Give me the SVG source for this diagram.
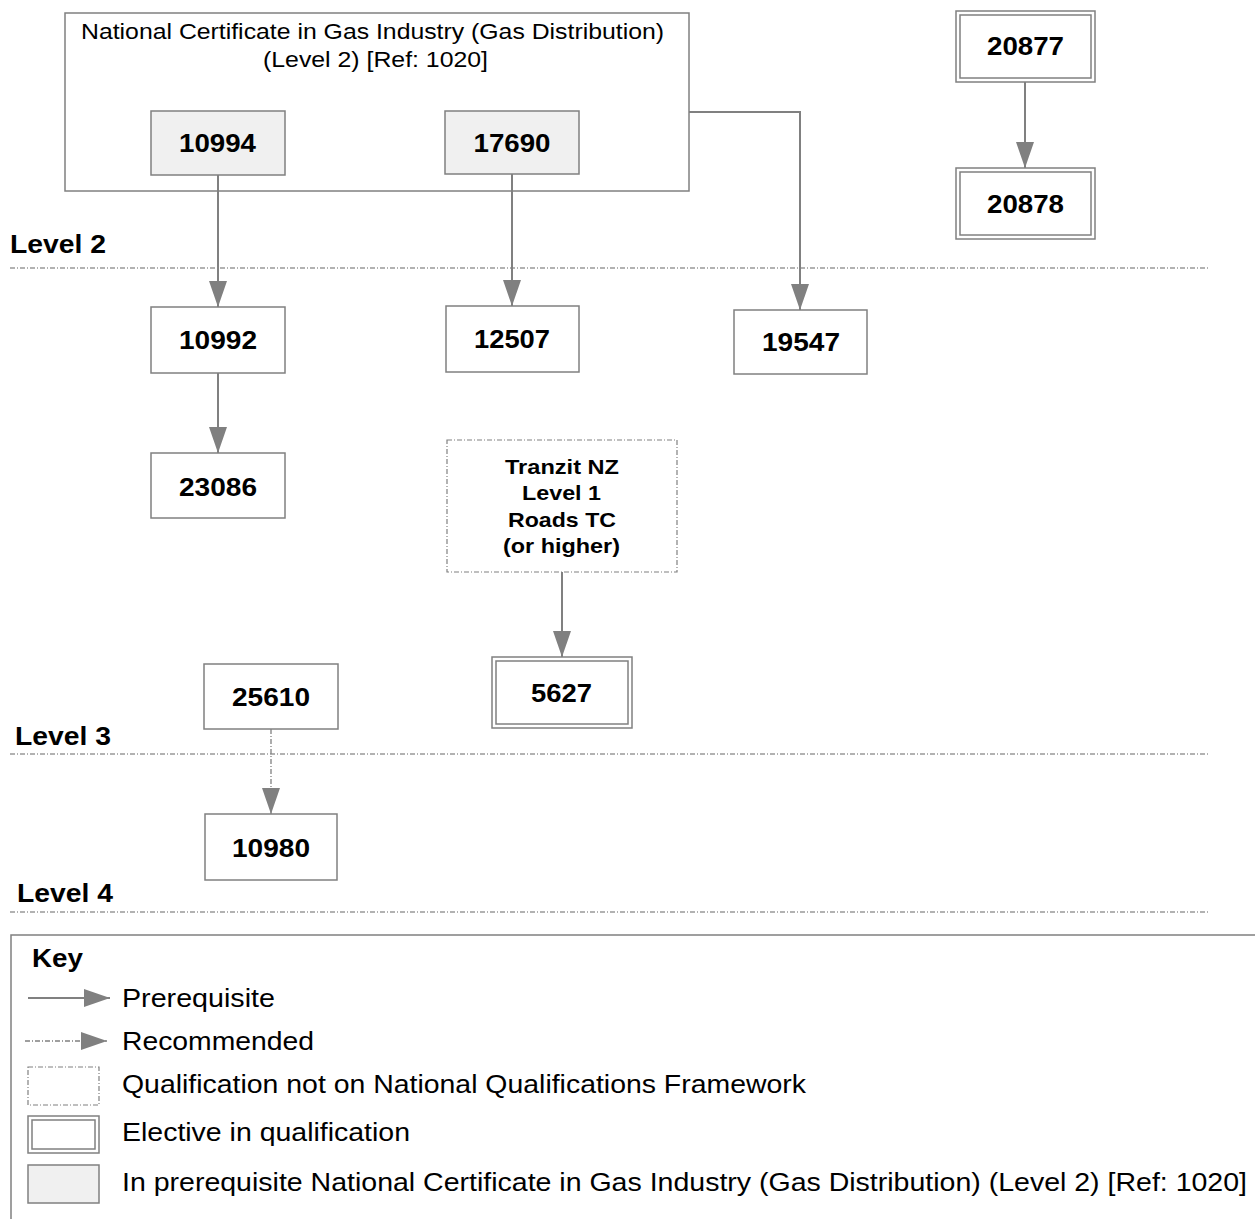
<svg xmlns="http://www.w3.org/2000/svg" width="1255" height="1219" viewBox="0 0 1255 1219">
<style>
.box{fill:#fff;stroke:#808080;stroke-width:1.5}
.grey{fill:#f0f0f0;stroke:#808080;stroke-width:1.5}
.dash{fill:#fff;stroke:#808080;stroke-width:1.2;stroke-dasharray:5 2 1 2}
.num{font-family:"Liberation Sans",Arial,sans-serif;font-weight:bold;font-size:25px;fill:#000;text-anchor:middle}
.lvl{font-family:"Liberation Sans",Arial,sans-serif;font-weight:bold;font-size:25px;fill:#000}
.reg{font-family:"Liberation Sans",Arial,sans-serif;font-size:22px;fill:#000;text-anchor:middle}
.key{font-family:"Liberation Sans",Arial,sans-serif;font-size:25px;fill:#000}
.conn{fill:none;stroke:#808080;stroke-width:2}
.rec{fill:none;stroke:#808080;stroke-width:1.3;stroke-dasharray:5 2 1 2}
.lvline{stroke:#999;stroke-width:1.3;stroke-dasharray:5 2 1 2}
</style>
<defs>
<marker id="arr" markerUnits="userSpaceOnUse" markerWidth="26" markerHeight="18" refX="26" refY="9" viewBox="0 0 26 18" orient="auto">
<path d="M0,0 L26,9 L0,18 Z" fill="#808080"/>
</marker>
</defs>
<rect width="1255" height="1219" fill="#fff"/>

<g id="levels">
<text class="lvl" x="10" y="253" textLength="96" lengthAdjust="spacingAndGlyphs">Level 2</text>
<line class="lvline" x1="10" y1="268" x2="1210" y2="268"/>
<text class="lvl" x="15" y="745" textLength="96" lengthAdjust="spacingAndGlyphs">Level 3</text>
<line class="lvline" x1="10" y1="754" x2="1210" y2="754"/>
<text class="lvl" x="17" y="902" textLength="96" lengthAdjust="spacingAndGlyphs">Level 4</text>
<line class="lvline" x1="10" y1="912" x2="1210" y2="912"/>
</g>

<g id="cert1020">
<rect class="box" x="65" y="13" width="624" height="178"/>
<text class="reg" x="372.5" y="39" textLength="583" lengthAdjust="spacingAndGlyphs">National Certificate in Gas Industry (Gas Distribution)</text>
<text class="reg" x="375.5" y="67" textLength="225" lengthAdjust="spacingAndGlyphs">(Level 2) [Ref: 1020]</text>
</g>
<g id="n10994"><rect class="grey" x="151" y="111" width="134" height="64"/><text class="num" x="217.5" y="152" textLength="77" lengthAdjust="spacingAndGlyphs">10994</text></g>
<g id="n17690"><rect class="grey" x="445" y="111" width="134" height="63"/><text class="num" x="512" y="152" textLength="77" lengthAdjust="spacingAndGlyphs">17690</text></g>
<g id="n20877"><rect class="box" x="956" y="11" width="139" height="71"/><rect class="box" x="960" y="15" width="131" height="63"/><text class="num" x="1025.5" y="55" textLength="77" lengthAdjust="spacingAndGlyphs">20877</text></g>
<g id="n20878"><rect class="box" x="956" y="168" width="139" height="71"/><rect class="box" x="960" y="172" width="131" height="63"/><text class="num" x="1025.5" y="213" textLength="77" lengthAdjust="spacingAndGlyphs">20878</text></g>
<g id="n10992"><rect class="box" x="151" y="307" width="134" height="66"/><text class="num" x="218" y="349" textLength="78" lengthAdjust="spacingAndGlyphs">10992</text></g>
<g id="n12507"><rect class="box" x="446" y="306" width="133" height="66"/><text class="num" x="512" y="348" textLength="76" lengthAdjust="spacingAndGlyphs">12507</text></g>
<g id="n19547"><rect class="box" x="734" y="310" width="133" height="64"/><text class="num" x="801" y="351" textLength="78" lengthAdjust="spacingAndGlyphs">19547</text></g>
<g id="n23086"><rect class="box" x="151" y="453" width="134" height="65"/><text class="num" x="218" y="496" textLength="78" lengthAdjust="spacingAndGlyphs">23086</text></g>
<g id="tranzit"><rect class="dash" x="447" y="440" width="230" height="132"/>
<text class="num" x="562" y="474" style="font-size:21px" textLength="114" lengthAdjust="spacingAndGlyphs">Tranzit NZ</text>
<text class="num" x="561.5" y="500" style="font-size:21px" textLength="79" lengthAdjust="spacingAndGlyphs">Level 1</text>
<text class="num" x="562" y="527" style="font-size:21px" textLength="108" lengthAdjust="spacingAndGlyphs">Roads TC</text>
<text class="num" x="561.5" y="553" style="font-size:21px" textLength="117" lengthAdjust="spacingAndGlyphs">(or higher)</text></g>
<g id="n5627"><rect class="box" x="492" y="657" width="140" height="71"/><rect class="box" x="496" y="661" width="132" height="63"/><text class="num" x="561.5" y="702" textLength="61" lengthAdjust="spacingAndGlyphs">5627</text></g>
<g id="n25610"><rect class="box" x="204" y="664" width="134" height="65"/><text class="num" x="271" y="706" textLength="78" lengthAdjust="spacingAndGlyphs">25610</text></g>
<g id="n10980"><rect class="box" x="205" y="814" width="132" height="66"/><text class="num" x="271" y="857" textLength="78" lengthAdjust="spacingAndGlyphs">10980</text></g>

<g id="connectors">
<line class="conn" x1="218" y1="175" x2="218" y2="307" marker-end="url(#arr)"/>
<line class="conn" x1="512" y1="174" x2="512" y2="306" marker-end="url(#arr)"/>
<polyline class="conn" points="689,112 800,112 800,310" marker-end="url(#arr)"/>
<line class="conn" x1="1025" y1="82" x2="1025" y2="168" marker-end="url(#arr)"/>
<line class="conn" x1="218" y1="373" x2="218" y2="453" marker-end="url(#arr)"/>
<line class="conn" x1="562" y1="572" x2="562" y2="657" marker-end="url(#arr)"/>
<line class="rec" x1="271" y1="729" x2="271" y2="814" marker-end="url(#arr)"/>
</g>

<g id="key">
<rect class="box" x="11" y="935" width="1260" height="300"/>
<text class="lvl" x="32" y="967" textLength="51" lengthAdjust="spacingAndGlyphs">Key</text>
<line class="conn" x1="28" y1="998" x2="110" y2="998" marker-end="url(#arr)"/>
<text class="key" x="122" y="1007" textLength="153" lengthAdjust="spacingAndGlyphs">Prerequisite</text>
<line class="rec" x1="25" y1="1041" x2="107" y2="1041" marker-end="url(#arr)"/>
<text class="key" x="122" y="1050" textLength="192" lengthAdjust="spacingAndGlyphs">Recommended</text>
<rect class="dash" x="28" y="1067" width="71" height="38"/>
<text class="key" x="122" y="1093" textLength="684" lengthAdjust="spacingAndGlyphs">Qualification not on National Qualifications Framework</text>
<rect class="box" x="28" y="1116" width="71" height="37"/><rect class="box" x="32" y="1120" width="63" height="29"/>
<text class="key" x="122" y="1141" textLength="288" lengthAdjust="spacingAndGlyphs">Elective in qualification</text>
<rect class="grey" x="28" y="1165" width="71" height="38"/>
<text class="key" x="122" y="1191" textLength="1125" lengthAdjust="spacingAndGlyphs">In prerequisite National Certificate in Gas Industry (Gas Distribution) (Level 2) [Ref: 1020]</text>
</g>
</svg>
